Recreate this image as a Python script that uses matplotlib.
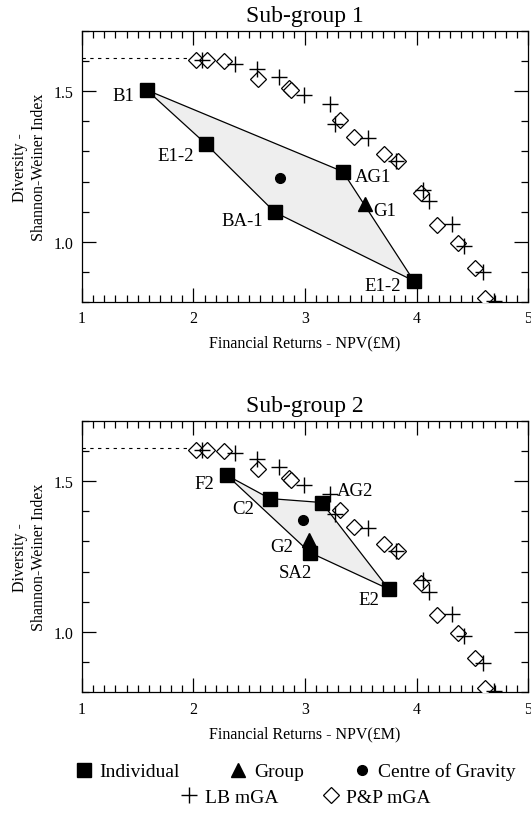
import numpy as np
import matplotlib
matplotlib.use("Agg")
import matplotlib.pyplot as plt
from matplotlib.lines import Line2D
from matplotlib.ticker import MultipleLocator

plt.rcParams['font.family'] = ['Liberation Serif', 'DejaVu Serif']

# Pareto fronts from the two mGA runs (same in both panels)
pp_x = [2.018, 2.123, 2.273, 2.580, 2.860, 2.875, 3.315, 3.435, 3.712, 3.835,
        4.036, 4.180, 4.372, 4.523, 4.616]
pp_y = [1.604, 1.604, 1.601, 1.541, 1.510, 1.503, 1.405, 1.348, 1.291, 1.269,
        1.162, 1.055, 0.997, 0.914, 0.813]
lb_x = [2.078, 2.369, 2.571, 2.769, 2.991, 3.225, 3.270, 3.562, 3.820, 4.060,
        4.111, 4.321, 4.426, 4.592, 4.697]
lb_y = [1.604, 1.592, 1.574, 1.548, 1.488, 1.458, 1.392, 1.346, 1.269, 1.173,
        1.134, 1.060, 0.986, 0.898, 0.804]

max_div = np.log(5)

# Sub-group 1
ind1_names = ["B1", "E1-2", "BA-1", "AG1", "E1-2"]
ind1_x = [1.580, 2.108, 2.730, 3.339, 3.976]
ind1_y = [1.504, 1.326, 1.098, 1.233, 0.870]
poly1_order = [0, 3, 4, 2, 1]
grp1 = ("G1", 3.535, 1.127)
cog1 = (2.778, 1.211)

# Sub-group 2
ind2_names = ["F2", "C2", "AG2", "SA2", "E2"]
ind2_x = [2.300, 2.685, 3.150, 3.045, 3.751]
ind2_y = [1.519, 1.442, 1.429, 1.263, 1.142]
poly2_order = [0, 1, 2, 4, 3]
grp2 = ("G2", 3.036, 1.305)
cog2 = (2.979, 1.370)

# label placement: (x, y, ha)
lab1 = [(1.468, 1.486, "right"), (2.003, 1.288, "right"), (2.625, 1.071, "right"),
        (3.450, 1.216, "left"), (3.856, 0.856, "right")]
glab1 = (3.616, 1.104, "left")
lab2 = [(2.183, 1.493, "right"), (2.544, 1.409, "right"), (3.285, 1.469, "left"),
        (2.910, 1.197, "center"), (3.571, 1.107, "center")]
glab2 = (2.895, 1.282, "right")

fig = plt.figure(figsize=(5.31, 8.2), dpi=100)


def panel(ax, title, names, xs, ys, order, grp, cog, labs, glab):
    px = [xs[i] for i in order]
    py = [ys[i] for i in order]
    ax.fill(px, py, facecolor="#eeeeee", edgecolor="black", lw=0.9, zorder=1)
    ax.plot([1, 2.02], [max_div, max_div], color="black", lw=0.8,
            dashes=(3, 4), zorder=2)
    ax.plot(pp_x, pp_y, "D", ms=8.5, mfc="white", mec="black", mew=0.9,
            ls="none", zorder=3)
    ax.plot(lb_x, lb_y, "+", ms=11, color="black", mew=1.0, ls="none", zorder=4)
    ax.plot(xs, ys, "s", ms=10, color="black", ls="none", zorder=5)
    ax.plot([grp[1]], [grp[2]], "^", ms=10, color="black", zorder=5)
    ax.plot([cog[0]], [cog[1]], "o", ms=7, color="black", zorder=5)
    for n, (tx, ty, ha) in zip(names, labs):
        ax.text(tx, ty, n, ha=ha, va="center", fontsize=13.5)
    ax.text(glab[0], glab[1], grp[0], ha=glab[2], va="center", fontsize=13.5)

    ax.set_xlim(1, 5)
    ax.set_ylim(0.8, 1.7)
    ax.xaxis.set_major_locator(MultipleLocator(1))
    ax.xaxis.set_minor_locator(MultipleLocator(0.1))
    ax.yaxis.set_minor_locator(MultipleLocator(0.1))
    ax.set_yticks([1.0, 1.5])
    ax.set_yticklabels(["1.0", "1.5"])
    ax.tick_params(which="both", direction="in", top=True, right=True,
                   labelsize=11.5, width=0.9)
    ax.tick_params(which="major", length=10, pad=6)
    ax.tick_params(which="minor", length=5)
    for s in ax.spines.values():
        s.set_linewidth(0.9)
    ax.set_title(title, fontsize=17, pad=7)
    ax.set_xlabel("Financial Returns - NPV(£M)", fontsize=11.5, labelpad=6)
    ax.set_ylabel("Diversity -\nShannon-Weiner Index", fontsize=11.5, labelpad=5)


ax1 = fig.add_axes([0.1544, 0.6305, 0.840, 0.3305])
ax2 = fig.add_axes([0.1544, 0.1545, 0.840, 0.3312])
panel(ax1, "Sub-group 1", ind1_names, ind1_x, ind1_y, poly1_order, grp1, cog1, lab1, glab1)
panel(ax2, "Sub-group 2", ind2_names, ind2_x, ind2_y, poly2_order, grp2, cog2, lab2, glab2)

h1 = [Line2D([], [], marker="s", ms=10, color="black", ls="none"),
      Line2D([], [], marker="^", ms=10, color="black", ls="none"),
      Line2D([], [], marker="o", ms=7, color="black", ls="none")]
h2 = [Line2D([], [], marker="+", ms=11, color="black", mew=1.0, ls="none"),
      Line2D([], [], marker="D", ms=8.5, mfc="white", mec="black", mew=0.9, ls="none")]
fig.legend(h1, ["Individual", "Group", "Centre of Gravity"], ncol=3,
           loc="center", bbox_to_anchor=(0.555, 0.058), frameon=False,
           fontsize=14, handletextpad=0.3, columnspacing=2.5, handlelength=1.0)
fig.legend(h2, ["LB mGA", "P&P mGA"], ncol=2,
           loc="center", bbox_to_anchor=(0.575, 0.027), frameon=False,
           fontsize=14, handletextpad=0.3, columnspacing=2.2, handlelength=1.0)

fig.savefig("out.png", dpi=100)
